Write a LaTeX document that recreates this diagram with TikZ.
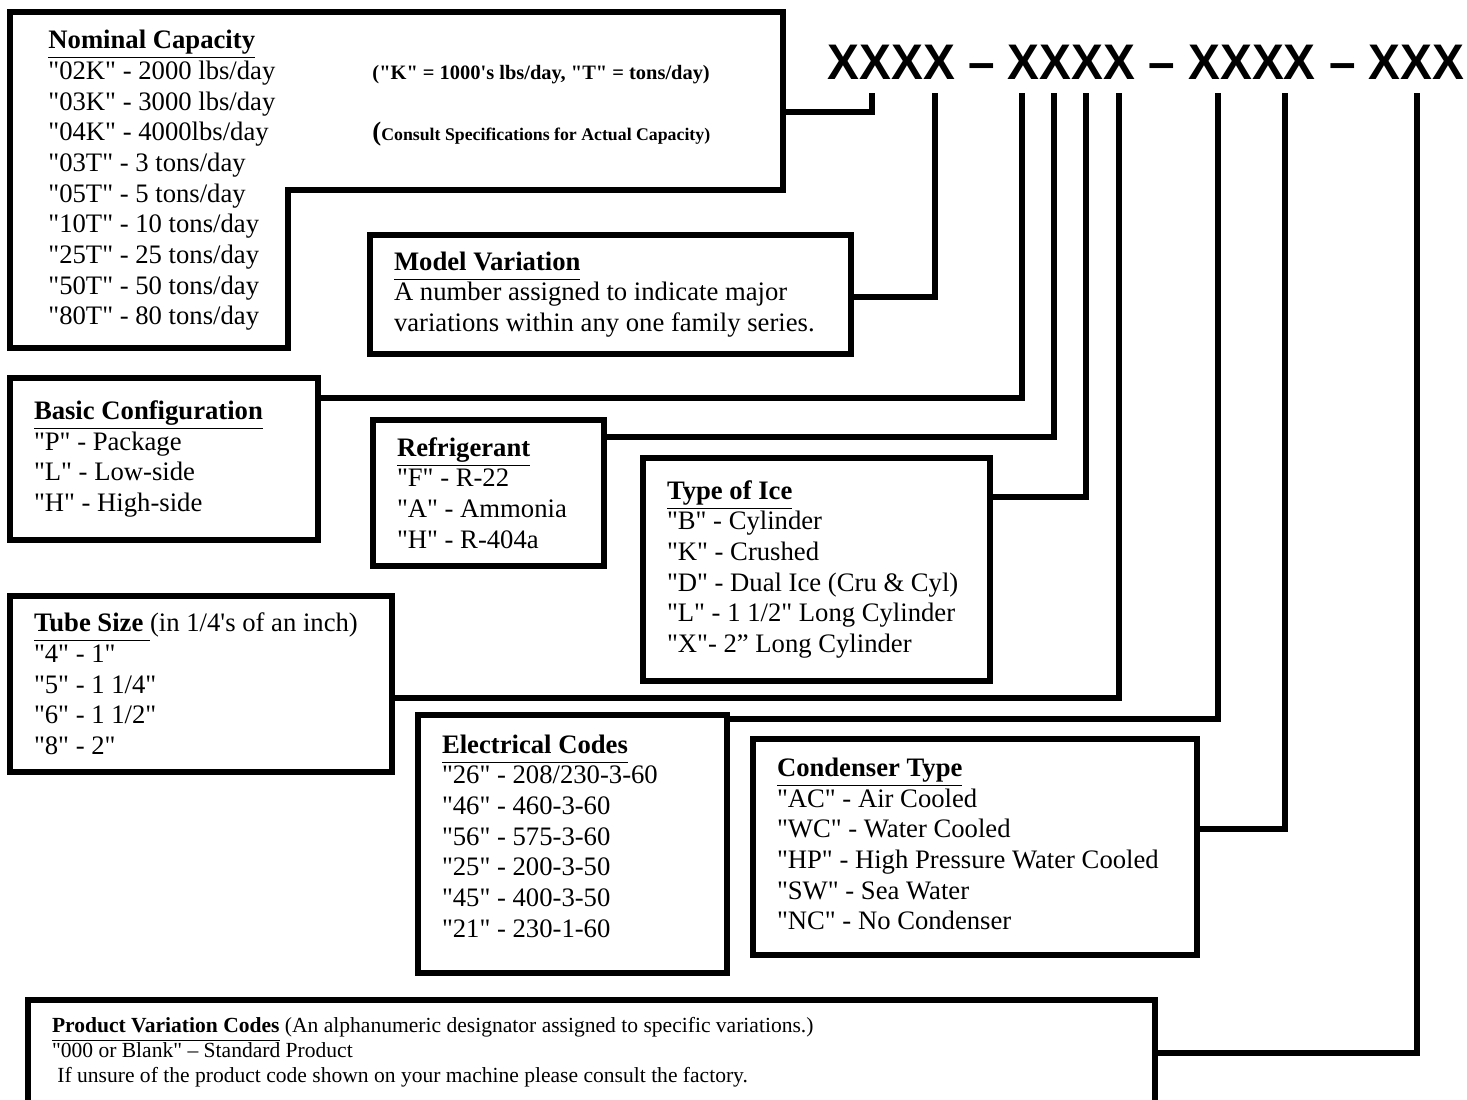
\documentclass[tikz,border=0pt]{standalone}
\usepackage{fontspec}
\setmainfont{Liberation Serif}[Ligatures=TeXOff]
\newfontfamily\codefont{Liberation Sans}[FakeStretch=0.955]

\newcommand{\heading}[1]{\underline{\textbf{#1}\vphantom{y}}}
\newcommand{\padbottom}[1]{\rule[-#1]{0pt}{#1}}

\begin{document}
\begin{tikzpicture}[
  x=0.45pt,
  y=-0.45pt,
  line join=miter
]
\tikzstyle{box}=[draw=black, line width=2.3pt, outer sep=0pt, anchor=north west, inner xsep=10.8pt, inner ysep=0pt, align=flush left, font=\fontsize{12}{13.8}\selectfont]
\tikzstyle{wire}=[draw=black, line width=2.3pt]
\tikzstyle{note}=[anchor=base west, inner sep=0pt, font=\bfseries]

\useasboundingbox (0,0) rectangle (1467,1099);

% ================= MODEL CODE =================
\node[anchor=base west, inner sep=0pt, font=\codefont\bfseries\fontsize{22.5}{27}\selectfont] (code) at (827,79) {XXXX – XXXX – XXXX – XXX};

\foreach \n/\xx in {nc/872, mv/935, bc/1022, rf/1054, ti/1086, ts/1119, ec/1218, ct/1285, pv/1417}
  \coordinate (tap-\n) at (\xx,93);

% ================= NOMINAL CAPACITY =================
\draw[wire] (10,12) -- (783,12) -- (783,190) -- (288,190) -- (288,348) -- (10,348) -- cycle;
\coordinate (nc) at (783,112);
\node[anchor=north west, inner sep=0pt, align=flush left, font=\fontsize{12}{13.8}\selectfont] (ncText) at (48,30) {\heading{Nominal Capacity}\\
"02K" - 2000 lbs/day\\
"03K" - 3000 lbs/day\\
"04K" - 4000lbs/day\\
"03T" - 3 tons/day\\
"05T" - 5 tons/day\\
"10T" - 10 tons/day\\
"25T" - 25 tons/day\\
"50T" - 50 tons/day\\
"80T" - 80 tons/day};
\node[note, font=\bfseries\fontsize{9.2}{11}\selectfont] (ncNoteA) at (372,79) {("K" = 1000's lbs/day, "T" = tons/day)};
\node[note, font=\bfseries\fontsize{8}{10}\selectfont] (ncNoteB) at (372,140) {{\fontsize{12}{13.8}\selectfont(}Consult Specifications for Actual Capacity)};

% ================= BOXES =================
\node[box, minimum width=216.45pt, minimum height=53.55pt, text width=194.85pt] (mv) at (370,235) {\heading{Model Variation}\\
A number assigned to indicate major\\
variations within any one family series.};

\node[box, minimum width=138.6pt, minimum height=72.9pt, text width=117pt] (bc) at (10,378) {\heading{Basic Configuration}\\
"P" - Package\\
"L" - Low-side\\
"H" - High-side\padbottom{2.7pt}};

\node[box, minimum width=103.95pt, minimum height=65.7pt, text width=82.35pt] (rf) at (373,420) {\heading{Refrigerant}\\
"F" - R-22\\
"A" - Ammonia\\
"H" - R-404a};

\node[box, minimum width=156.15pt, minimum height=100.35pt, text width=134.55pt] (ti) at (643,458) {\heading{Type of Ice}\\
"B" - Cylinder\\
"K" - Crushed\\
"D" - Dual Ice (Cru \& Cyl)\\
"L" - 1 1/2" Long Cylinder\\
"X"- 2” Long Cylinder\padbottom{2.7pt}};

\node[box, minimum width=171.9pt, minimum height=79.2pt, text width=150.3pt] (ts) at (10,596) {\heading{Tube Size\ }(in 1/4's of an inch)\\
"4" - 1"\\
"5" - 1 1/4"\\
"6" - 1 1/2"\\
"8" - 2"};

\node[box, minimum width=139.05pt, minimum height=116.1pt, text width=117.45pt] (ec) at (418,715) {\heading{Electrical Codes}\\
"26" - 208/230-3-60\\
"46" - 460-3-60\\
"56" - 575-3-60\\
"25" - 200-3-50\\
"45" - 400-3-50\\
"21" - 230-1-60\padbottom{7.2pt}};

\node[box, minimum width=199.8pt, minimum height=97.2pt, text width=178.2pt] (ct) at (753,739) {\heading{Condenser Type}\\
"AC" - Air Cooled\\
"WC" - Water Cooled\\
"HP" - High Pressure Water Cooled\\
"SW" - Sea Water\\
"NC" - No Condenser\padbottom{2.7pt}};

\node[box, minimum width=507.15pt, minimum height=46.8pt, text width=485.55pt, font=\fontsize{9.7}{11.25}\selectfont] (pv) at (28,1000) {\heading{Product Variation Codes} (An alphanumeric designator assigned to specific variations.)\\
"000 or Blank" – Standard Product\\
\hspace*{0.25em}If unsure of the product code shown on your machine please consult the factory.};

% ================= CONNECTORS =================
\draw[wire] (nc) -| (tap-nc);
\foreach \n/\yy in {mv/297, bc/398, rf/437, ti/497, ts/698, ec/719, ct/829, pv/1053}
  \draw[wire] (\n.east |- 0,\yy) -| (tap-\n);
\end{tikzpicture}
\end{document}
